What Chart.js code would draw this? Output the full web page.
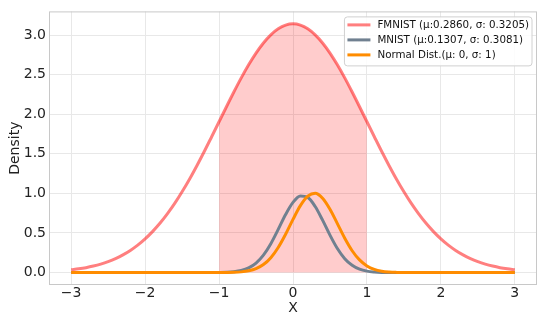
<!DOCTYPE html>
<html>
<head>
<meta charset="utf-8">
<script src="https://cdn.jsdelivr.net/npm/chart.js@4.4.1/dist/chart.umd.min.js"></script>
<style>
  body { margin: 0; background: #fff; }
  #wrap { width: 550px; height: 327px; position: relative; }
</style>
</head>
<body>
<div id="wrap"><canvas id="density"></canvas></div>
<script>
// x samples, -3 .. 3 step 0.1
const xs = [-3.0,-2.9,-2.8,-2.7,-2.6,-2.5,-2.4,-2.3,-2.2,-2.1,-2.0,-1.9,-1.8,-1.7,-1.6,-1.5,-1.4,-1.3,-1.2,-1.1,
            -1.0,-0.9,-0.8,-0.7,-0.6,-0.5,-0.4,-0.3,-0.2,-0.1,0.0,0.1,0.2,0.3,0.4,0.5,0.6,0.7,0.8,0.9,
            1.0,1.1,1.2,1.3,1.4,1.5,1.6,1.7,1.8,1.9,2.0,2.1,2.2,2.3,2.4,2.5,2.6,2.7,2.8,2.9,3.0];

// wide pink curve (FMNIST label)
const fmnist = [0.035,0.047,0.062,0.082,0.107,0.138,0.176,0.223,0.279,0.346,
                0.425,0.517,0.622,0.741,0.873,1.020,1.179,1.350,1.529,1.716,
                1.905,2.095,2.281,2.459,2.624,2.772,2.900,3.003,3.079,3.126,
                3.142,
                3.126,3.079,3.003,2.900,2.772,2.624,2.459,2.281,2.095,1.905,
                1.716,1.529,1.350,1.179,1.020,0.873,0.741,0.622,0.517,0.425,
                0.346,0.279,0.223,0.176,0.138,0.107,0.082,0.062,0.047,0.035];

// gray curve (MNIST label)
const mnist = [0,0,0,0,0,0,0,0,0,0,0,0,0,0,0,0,0,0,
               0.0001,0.0003,0.0012,0.0036,0.0101,0.0256,0.0583,0.119,0.220,0.365,0.545,0.733,
               0.886,0.968,0.950,0.834,0.662,0.473,0.304,0.176,0.092,0.043,
               0.018,0.007,0.002,0.001,0.0002,
               0,0,0,0,0,0,0,0,0,0,0,0,0,0,0,0];

// orange curve (Normal Dist. label)
const normal = [0,0,0,0,0,0,0,0,0,0,0,0,0,0,0,0,0,0,0,0,
                0.0003,0.0011,0.0032,0.0088,0.0219,0.049,0.101,0.188,0.317,0.484,
                0.672,0.845,0.965,1.002,0.939,0.800,0.619,0.434,0.276,0.160,
                0.084,0.040,0.017,0.0067,0.0024,0.0008,0.0002,
                0,0,0,0,0,0,0,0,0,0,0,0,0,0];

const labels = ['FMNIST (\u00b5:0.2860, \u03c3: 0.3205)', 'MNIST (\u00b5:0.1307, \u03c3: 0.3081)', 'Normal Dist.(\u00b5: 0, \u03c3: 1)'];
const colors = ['rgba(255,0,0,0.5)', '#708090', '#ff8c00'];

const xTicks = [-3, -2, -1, 0, 1, 2, 3];
const yTicks = [0, 0.5, 1.0, 1.5, 2.0, 2.5, 3.0];
const shadeFrom = -1, shadeTo = 1;

function pts(ys) {
    return xs.map((x, i) => ({ x: x, y: ys[i] }));
}

const shaded = pts(fmnist).filter(p => p.x >= shadeFrom - 1e-9 && p.x <= shadeTo + 1e-9);

Chart.defaults.font.family = 'DejaVu Sans';
Chart.defaults.color = '#222';

// frame around the plot area
const framePlugin = {
    id: 'frame',
    afterDatasetsDraw(chart) {
        const a = chart.chartArea, ctx = chart.ctx;
        ctx.save();
        ctx.strokeStyle = '#c8c8c8';
        ctx.lineWidth = 1;
        ctx.strokeRect(a.left + 0.5, a.top + 0.5, a.right - a.left - 1, a.bottom - a.top - 1);
        ctx.restore();
    }
};

// legend in the upper right of the plot
const legendPlugin = {
    id: 'boxLegend',
    afterDraw(chart) {
        const a = chart.chartArea, ctx = chart.ctx;
        ctx.save();
        ctx.font = '10.3px "DejaVu Sans"';
        let w = 0;
        labels.forEach(t => { w = Math.max(w, ctx.measureText(t).width); });
        const boxW = w + 36, boxH = 49;
        const left = a.right - 5.5 - boxW, top = a.top + 5;
        ctx.fillStyle = 'rgba(255,255,255,0.85)';
        ctx.strokeStyle = '#d0d0d0';
        ctx.lineWidth = 1;
        ctx.beginPath();
        ctx.roundRect(left + 0.5, top + 0.5, boxW, boxH, 3);
        ctx.fill();
        ctx.stroke();
        labels.forEach((t, i) => {
            const y = top + 8.5 + i * 15;
            ctx.strokeStyle = colors[i];
            ctx.lineWidth = 3;
            ctx.beginPath();
            ctx.moveTo(left + 3.5, y);
            ctx.lineTo(left + 26.5, y);
            ctx.stroke();
            ctx.fillStyle = '#111';
            ctx.textBaseline = 'middle';
            ctx.fillText(t, left + 33.5, y);
        });
        ctx.restore();
    }
};

const ctx = document.getElementById('density');
new Chart(ctx, {
    type: 'line',
    data: {
        datasets: [
            { data: pts(normal), borderColor: colors[2], borderWidth: 3, pointRadius: 0, order: 0 },
            { data: pts(mnist), borderColor: colors[1], borderWidth: 3, pointRadius: 0, order: 1 },
            { data: pts(fmnist), borderColor: colors[0], borderWidth: 3, pointRadius: 0, order: 2 },
            { data: shaded, borderWidth: 0, pointRadius: 0, fill: 'origin',
              backgroundColor: 'rgba(255,0,0,0.2)', order: 3 }
        ]
    },
    options: {
        responsive: true,
        maintainAspectRatio: false,
        animation: false,
        cubicInterpolationMode: 'monotone',
        layout: { padding: { left: 0, right: 13, top: 10, bottom: 0 } },
        plugins: { legend: { display: false }, tooltip: { enabled: false } },
        scales: {
            x: {
                type: 'linear',
                min: -3.3,
                max: 3.3,
                afterBuildTicks: s => { s.ticks = xTicks.map(v => ({ value: v })); },
                afterFit: s => { s.height = 42; },
                ticks: {
                    font: { size: 14 },
                    padding: 0,
                    maxRotation: 0,
                    callback: v => (v < 0 ? '\u2212' + Math.abs(v) : '' + v)
                },
                grid: { color: '#e8e8e8', drawTicks: false },
                border: { display: false },
                title: { display: true, text: 'X', font: { size: 14 }, padding: { top: 0, bottom: 10 } }
            },
            y: {
                min: -0.157,
                max: 3.299,
                afterBuildTicks: s => { s.ticks = yTicks.map(v => ({ value: v })); },
                afterFit: s => { s.width = 49; },
                ticks: {
                    font: { size: 14 },
                    padding: 3,
                    callback: v => v.toFixed(1)
                },
                grid: { color: '#e8e8e8', drawTicks: false },
                border: { display: false },
                title: { display: true, text: 'Density', font: { size: 14 }, padding: { top: 6.6, bottom: 0 } }
            }
        }
    },
    plugins: [framePlugin, legendPlugin]
});
</script>
</body>
</html>
